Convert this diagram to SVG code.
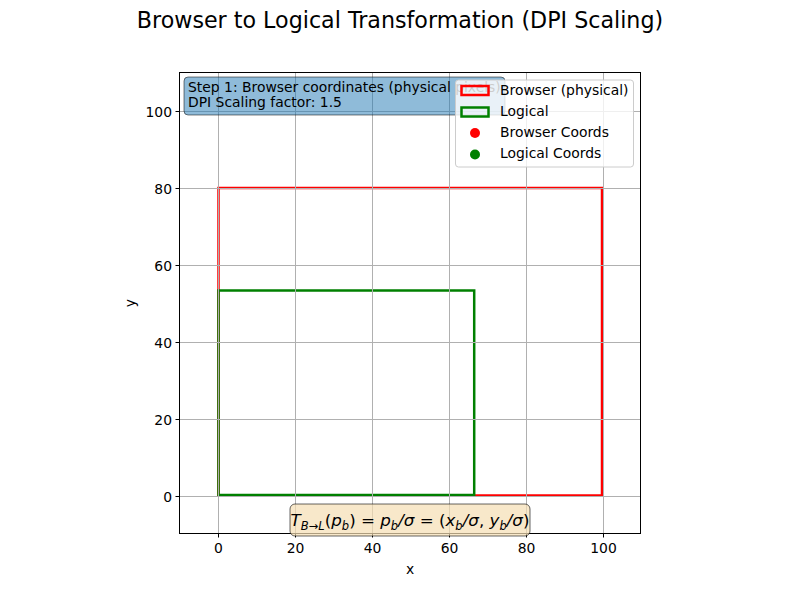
<svg xmlns="http://www.w3.org/2000/svg" width="800" height="600" viewBox="0 0 800 600">
<style>
text{font-family:"DejaVu Sans","Liberation Sans",sans-serif;fill:#000}
.tick{font-size:13.9px}
.grid line{stroke:#b0b0b0;stroke-width:1}
.tk line{stroke:#000;stroke-width:1}
.m{font-style:italic}
</style>
<rect width="800" height="600" fill="#fff"/>
<text x="400" y="28" font-size="22.2" text-anchor="middle">Browser to Logical Transformation (DPI Scaling)</text>
<g id="axes">
<rect x="179" y="72" width="462" height="462" fill="#fff"/>
</g>
<g id="shapes">
<g id="browser-rect"><rect x="218.5" y="188" width="383.5" height="307.5" fill="none" stroke="#ff0000" stroke-width="2.5"/></g>
<g id="logical-rect"><rect x="218.5" y="290.5" width="255.7" height="204.5" fill="none" stroke="#008000" stroke-width="2.5"/></g>
</g>
<g class="grid">
<line x1="218.5" y1="72" x2="218.5" y2="534"/>
<line x1="295.5" y1="72" x2="295.5" y2="534"/>
<line x1="372.5" y1="72" x2="372.5" y2="534"/>
<line x1="449.5" y1="72" x2="449.5" y2="534"/>
<line x1="526.5" y1="72" x2="526.5" y2="534"/>
<line x1="603.5" y1="72" x2="603.5" y2="534"/>
<line x1="179" y1="496.5" x2="641" y2="496.5"/>
<line x1="179" y1="419.5" x2="641" y2="419.5"/>
<line x1="179" y1="342.5" x2="641" y2="342.5"/>
<line x1="179" y1="265.5" x2="641" y2="265.5"/>
<line x1="179" y1="188.5" x2="641" y2="188.5"/>
<line x1="179" y1="111.5" x2="641" y2="111.5"/>
</g>
<rect x="179.5" y="72.5" width="461" height="461" fill="none" stroke="#000" stroke-width="1"/>
<g class="tk">
<line x1="218.5" y1="534" x2="218.5" y2="537.5"/>
<line x1="295.5" y1="534" x2="295.5" y2="537.5"/>
<line x1="372.5" y1="534" x2="372.5" y2="537.5"/>
<line x1="449.5" y1="534" x2="449.5" y2="537.5"/>
<line x1="526.5" y1="534" x2="526.5" y2="537.5"/>
<line x1="603.5" y1="534" x2="603.5" y2="537.5"/>
<line x1="175.5" y1="496.5" x2="179" y2="496.5"/>
<line x1="175.5" y1="419.5" x2="179" y2="419.5"/>
<line x1="175.5" y1="342.5" x2="179" y2="342.5"/>
<line x1="175.5" y1="265.5" x2="179" y2="265.5"/>
<line x1="175.5" y1="188.5" x2="179" y2="188.5"/>
<line x1="175.5" y1="111.5" x2="179" y2="111.5"/>
</g>
<g class="tick" text-anchor="middle">
<text x="218.5" y="553">0</text>
<text x="295.5" y="553">20</text>
<text x="372.5" y="553">40</text>
<text x="449.5" y="553">60</text>
<text x="526.5" y="553">80</text>
<text x="603.5" y="553">100</text>
</g>
<g class="tick" text-anchor="end">
<text x="172" y="501.5">0</text>
<text x="172" y="424.5">20</text>
<text x="172" y="347.5">40</text>
<text x="172" y="270.5">60</text>
<text x="172" y="193.5">80</text>
<text x="172" y="116.5">100</text>
</g>
<text x="410" y="574" class="tick" text-anchor="middle">x</text>
<text x="135" y="303" class="tick" text-anchor="middle" transform="rotate(-90 135 303)">y</text>
<g id="step-box">
<rect x="184" y="77" width="321" height="38" rx="4" fill="#1f77b4" fill-opacity="0.5" stroke="#000" stroke-opacity="0.5" stroke-width="1"/>
<text x="188" y="92" class="tick">Step 1: Browser coordinates (physical pixels)</text>
<text x="188" y="107" class="tick">DPI Scaling factor: 1.5</text>
</g>
<g id="legend">
<rect x="455.5" y="80" width="178" height="87" rx="3" fill="#fff" fill-opacity="0.8" stroke="#cccccc" stroke-width="1"/>
<rect x="461.5" y="86" width="27" height="9" fill="none" stroke="#ff0000" stroke-width="2.5"/>
<text x="500" y="95" class="tick">Browser (physical)</text>
<rect x="461.5" y="107.5" width="27" height="9" fill="none" stroke="#008000" stroke-width="2.5"/>
<text x="500" y="116" class="tick">Logical</text>
<circle cx="475" cy="133" r="5" fill="#ff0000"/>
<text x="500" y="137" class="tick">Browser Coords</text>
<circle cx="475" cy="154.5" r="5" fill="#008000"/>
<text x="500" y="158" class="tick">Logical Coords</text>
</g>
<g id="formula">
<rect x="290" y="504" width="240" height="32" rx="5" fill="#f5deb3" fill-opacity="0.7" stroke="#000" stroke-opacity="0.6" stroke-width="1"/>
<text x="410" y="526" font-size="16.7" text-anchor="middle"><tspan class="m">T</tspan><tspan class="m" font-size="11.5" dy="4">B→L</tspan><tspan dy="-4">(</tspan><tspan class="m">p</tspan><tspan class="m" font-size="11.5" dy="4">b</tspan><tspan dy="-4">) = </tspan><tspan class="m">p</tspan><tspan class="m" font-size="11.5" dy="4">b</tspan><tspan dy="-4" class="m">/σ</tspan><tspan> = (</tspan><tspan class="m">x</tspan><tspan class="m" font-size="11.5" dy="4">b</tspan><tspan dy="-4" class="m">/σ</tspan><tspan>, </tspan><tspan class="m">y</tspan><tspan class="m" font-size="11.5" dy="4">b</tspan><tspan dy="-4" class="m">/σ</tspan><tspan>)</tspan></text>
</g>
</svg>
